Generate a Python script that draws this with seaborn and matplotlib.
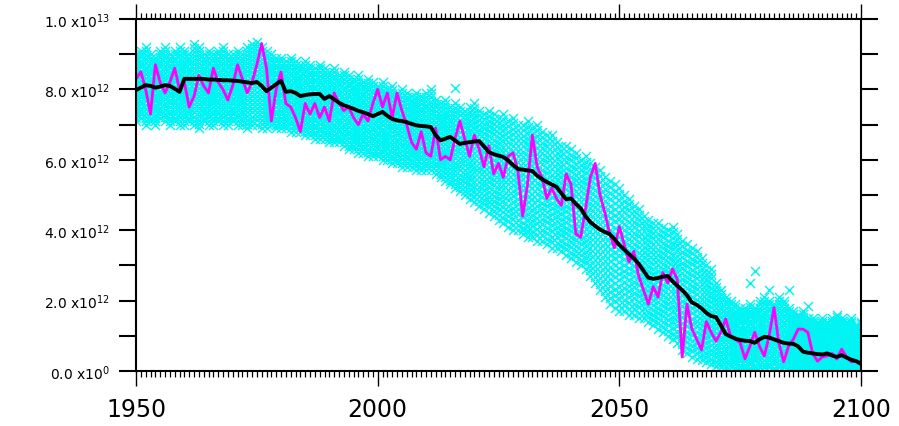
import numpy as np
import pandas as pd
import matplotlib
matplotlib.use("Agg")
import matplotlib.pyplot as plt
import seaborn as sns

# ---- data (values in units of 1e12) ----
YEARS = list(range(1950, 2101))

ENS_MEAN = [
    7.98, 8.05, 8.12, 8.10, 8.05, 8.08, 8.12, 8.10, 8.02, 7.93,
    8.30, 8.30, 8.30, 8.30, 8.30, 8.28, 8.28, 8.27, 8.26, 8.26,
    8.25, 8.24, 8.22, 8.20, 8.18, 8.21, 8.10, 7.95, 8.05, 8.15,
    8.24, 7.93, 7.95, 7.90, 7.81, 7.84, 7.86, 7.87, 7.87, 7.73,
    7.81, 7.72, 7.62, 7.55, 7.50, 7.45, 7.39, 7.35, 7.30, 7.24,
    7.30, 7.36, 7.25, 7.16, 7.12, 7.10, 7.07, 7.02, 6.98, 6.96,
    6.95, 6.93, 6.70, 6.55, 6.60, 6.65, 6.55, 6.45, 6.48, 6.50,
    6.52, 6.53, 6.38, 6.22, 6.16, 6.12, 6.08, 5.98, 5.85, 5.74,
    5.72, 5.70, 5.68, 5.55, 5.45, 5.37, 5.30, 5.23, 5.05, 4.88,
    4.90, 4.75, 4.62, 4.40, 4.23, 4.12, 4.02, 3.95, 3.89, 3.75,
    3.58, 3.45, 3.32, 3.20, 3.05, 2.85, 2.65, 2.62, 2.64, 2.68,
    2.70, 2.55, 2.42, 2.30, 2.15, 1.95, 1.88, 1.78, 1.65, 1.56,
    1.53, 1.30, 1.05, 0.98, 0.92, 0.88, 0.86, 0.85, 0.80, 0.90,
    0.97, 0.95, 0.90, 0.85, 0.80, 0.78, 0.77, 0.70, 0.55, 0.52,
    0.50, 0.48, 0.47, 0.50, 0.44, 0.40, 0.45, 0.38, 0.32, 0.28,
    0.20,
]

MEMBER = [
    8.3, 8.5, 8.0, 7.3, 8.7, 8.2, 7.9, 8.2, 8.6, 8.0,
    8.2, 7.5, 7.8, 8.4, 8.1, 7.9, 8.6, 8.2, 8.0, 7.7,
    8.1, 8.7, 8.3, 7.9, 8.2, 8.7, 9.3, 8.6, 7.1, 8.0,
    8.5, 7.6, 7.5, 7.2, 6.8, 7.6, 7.3, 7.6, 7.2, 7.5,
    7.1, 7.9, 7.6, 7.4, 7.5, 7.2, 7.0, 7.3, 7.1, 7.6,
    8.0, 7.5, 7.9, 7.2, 7.9, 7.4, 7.0, 6.5, 6.3, 6.8,
    6.2, 6.1, 6.9, 6.0, 6.1, 6.0, 6.6, 7.1, 6.6, 6.1,
    6.7, 6.3, 5.8, 6.4, 5.6, 5.9, 5.5, 6.1, 6.2, 5.7,
    4.4, 5.3, 6.7, 5.8, 5.5, 4.9, 5.2, 4.9, 4.7, 5.6,
    5.3, 3.9, 3.8, 4.6, 5.5, 5.9, 5.0, 4.5, 3.9, 3.5,
    4.1, 3.6, 3.1, 3.4, 2.7, 2.3, 1.9, 2.4, 2.1, 2.8,
    2.5, 2.9, 2.6, 0.4, 1.9, 1.2, 0.9, 0.6, 1.4, 1.1,
    0.85, 1.1, 1.48, 1.0, 0.9, 0.8, 0.35, 0.7, 1.1, 0.7,
    0.43, 1.0, 1.8, 0.8, 0.26, 0.7, 0.9, 1.19, 1.19, 1.1,
    0.5, 0.28, 0.4, 0.43, 0.5, 0.34, 0.62, 0.4, 0.26, 0.28,
    0.25,
]

SPREAD_HI = [
    9.0, 9.1, 9.2, 9.0, 8.9, 9.1, 9.2, 9.0, 9.1, 9.2,
    9.1, 9.0, 9.3, 9.2, 9.0, 9.1, 9.0, 9.1, 9.2, 9.0,
    9.0, 9.1, 9.0, 9.2, 9.3, 9.35, 9.2, 9.1, 9.0, 8.9,
    8.9, 8.8, 8.9, 8.8, 8.7, 8.8, 8.7, 8.6, 8.7, 8.6,
    8.5, 8.6, 8.4, 8.5, 8.4, 8.3, 8.4, 8.2, 8.3, 8.2,
    8.1, 8.2, 8.0, 8.1, 7.9, 8.0, 7.9, 7.8, 7.9, 7.8,
    7.9, 8.0, 7.7, 7.6, 7.7, 7.5, 7.6, 7.5, 7.4, 7.5,
    7.6, 7.4, 7.3, 7.4, 7.3, 7.2, 7.3, 7.1, 7.2, 7.0,
    7.0, 7.1, 6.9, 7.0, 6.8, 6.7, 6.7, 6.5, 6.4, 6.4,
    6.3, 6.2, 6.0, 6.1, 5.9, 5.8, 5.7, 5.5, 5.4, 5.3,
    5.2, 5.0, 4.9, 4.7, 4.6, 4.4, 4.3, 4.2, 4.2, 4.1,
    4.0, 4.1, 3.9, 3.7, 3.6, 3.5, 3.4, 3.2, 3.0, 2.9,
    2.5, 2.3, 2.1, 2.0, 1.9, 1.8, 1.8, 1.9, 1.8, 2.0,
    2.1, 2.0, 1.9, 2.1, 2.0, 1.8, 1.7, 1.6, 1.7, 1.5,
    1.5, 1.4, 1.5, 1.4, 1.5, 1.6, 1.5, 1.4, 1.5, 1.3,
    1.4,
]

SPREAD_LO = [
    7.1, 7.2, 7.0, 7.1, 7.0, 7.2, 7.1, 7.0, 7.1, 7.0,
    7.0, 7.1, 7.0, 6.9, 7.1, 7.0, 7.0, 7.1, 7.0, 7.0,
    7.1, 7.0, 7.0, 6.9, 7.0, 7.0, 6.9, 6.9, 7.0, 6.9,
    6.9, 6.9, 6.8, 6.8, 6.8, 6.7, 6.7, 6.6, 6.6, 6.6,
    6.5, 6.5, 6.5, 6.4, 6.3, 6.3, 6.2, 6.2, 6.1, 6.1,
    6.1, 6.0, 6.0, 5.9, 5.9, 5.8, 5.8, 5.8, 5.7, 5.7,
    5.7, 5.7, 5.6, 5.5, 5.4, 5.3, 5.2, 5.1, 5.0, 4.9,
    4.8, 4.7, 4.6, 4.5, 4.4, 4.3, 4.2, 4.1, 4.0, 4.0,
    3.9, 3.8, 3.8, 3.7, 3.7, 3.6, 3.5, 3.5, 3.4, 3.3,
    3.2, 3.1, 3.0, 2.9, 2.7, 2.5, 2.3, 2.1, 1.9, 1.8,
    1.7, 1.7, 1.6, 1.6, 1.5, 1.5, 1.4, 1.3, 1.2, 1.1,
    1.0, 0.9, 0.8, 0.6, 0.5, 0.4, 0.35, 0.3, 0.25, 0.2,
    0.15, 0.1, 0.05, 0.0, 0.0, 0.0, 0.0, 0.0, 0.0, 0.0,
    0.0, 0.0, 0.0, 0.0, 0.0, 0.0, 0.0, 0.0, 0.0, 0.0,
    0.0, 0.0, 0.0, 0.0, 0.0, 0.0, 0.0, 0.0, 0.0, 0.0,
    0.0,
]

# relative positions of ensemble members within the spread
LEVELS = [0.0, 0.05, 0.10, 0.15, 0.20, 0.25, 0.30, 0.35, 0.40, 0.45, 0.50,
          0.55, 0.60, 0.65, 0.70, 0.75, 0.80, 0.85, 0.90, 0.95, 1.0]

# isolated members lying outside the main cloud
STRAY_YEARS = [2016, 2030, 2077, 2078, 2081, 2085, 2089]
STRAY_VALS = [8.05, 4.0, 2.5, 2.85, 2.3, 2.3, 1.85]

SCALE = 1e12
Y_TICKS = [0, 1, 2, 3, 4, 5, 6, 7, 8, 9, 10]
Y_TICK_LABELS = ["0.0 x10$^{0}$", "", "2.0 x10$^{12}$", "", "4.0 x10$^{12}$", "",
                 "6.0 x10$^{12}$", "", "8.0 x10$^{12}$", "", "1.0 x10$^{13}$"]
X_TICKS = [1950, 2000, 2050, 2100]

# ---- tidy tables ----
cloud_rows = []
for yr, lo, hi in zip(YEARS, SPREAD_LO, SPREAD_HI):
    for f in LEVELS:
        cloud_rows.append((yr, (lo + f * (hi - lo)) * SCALE))
for yr, v in zip(STRAY_YEARS, STRAY_VALS):
    cloud_rows.append((yr, v * SCALE))
cloud = pd.DataFrame(cloud_rows, columns=["year", "value"])

lines = pd.DataFrame({
    "year": YEARS,
    "mean": np.array(ENS_MEAN) * SCALE,
    "member": np.array(MEMBER) * SCALE,
})

# ---- figure ----
sns.set_style("ticks", {"xtick.bottom": True, "xtick.top": True,
                        "ytick.left": True, "ytick.right": True,
                        "axes.edgecolor": "black"})
plt.rcParams["font.family"] = ["DejaVu Sans"]

fig = plt.figure(figsize=(8.99, 4.27), dpi=100)
L, R, T, B = 136 / 899, 861 / 899, 1 - 20 / 427, 1 - 372 / 427
ax = fig.add_axes([L, B, R - L, T - B])

sns.scatterplot(data=cloud, x="year", y="value", ax=ax, marker="x",
                color="#00f4f4", s=42, linewidth=1.0, zorder=1, legend=False)
sns.lineplot(data=lines, x="year", y="member", ax=ax, color="#ff00ff",
             linewidth=2.0, zorder=2, legend=False)
sns.lineplot(data=lines, x="year", y="mean", ax=ax, color="black",
             linewidth=2.8, zorder=3, legend=False)

ax.set_xlim(1950, 2100)
ax.set_ylim(0, 10 * SCALE)
ax.set_xlabel("")
ax.set_ylabel("")

for sp in ax.spines.values():
    sp.set_linewidth(1.5)

ax.set_yticks([t * SCALE for t in Y_TICKS])
ax.set_yticklabels(Y_TICK_LABELS, fontsize=10)
ax.tick_params(axis="y", which="major", direction="out", length=12, width=1.5,
               left=True, right=True, pad=7, color="black", labelcolor="black")
ax.tick_params(axis="y", which="minor", left=False, right=False)

# year axis: labels below, tick marks along the top edge
ax.set_xticks(X_TICKS)
ax.set_xticklabels([str(t) for t in X_TICKS], fontsize=17)
ax.set_xticks(YEARS, minor=True)
ax.tick_params(axis="x", which="major", direction="out", length=11, width=1.0,
               bottom=False, top=True, labelbottom=True, labeltop=False,
               pad=8, color="black", labelcolor="black")
ax.tick_params(axis="x", which="minor", direction="out", length=4.5, width=0.9,
               bottom=False, top=True, color="black")

# tick marks below the lower edge, drawn as inward ticks of a thin strip
strip_h = 24 / 427
bax = fig.add_axes([L, B - strip_h, R - L, strip_h], facecolor="none", zorder=5)
bax.set_xlim(1950, 2100)
bax.set_ylim(0, 1)
for sp in bax.spines.values():
    sp.set_visible(False)
bax.set_yticks([])
bax.set_xticks(X_TICKS)
bax.set_xticks(YEARS, minor=True)
bax.tick_params(axis="x", which="major", direction="in", length=11, width=1.0,
                bottom=False, top=True, labelbottom=False, labeltop=False,
                color="black")
bax.tick_params(axis="x", which="minor", direction="in", length=4.5, width=0.9,
                bottom=False, top=True, color="black")

fig.savefig("out.png", dpi=100)
